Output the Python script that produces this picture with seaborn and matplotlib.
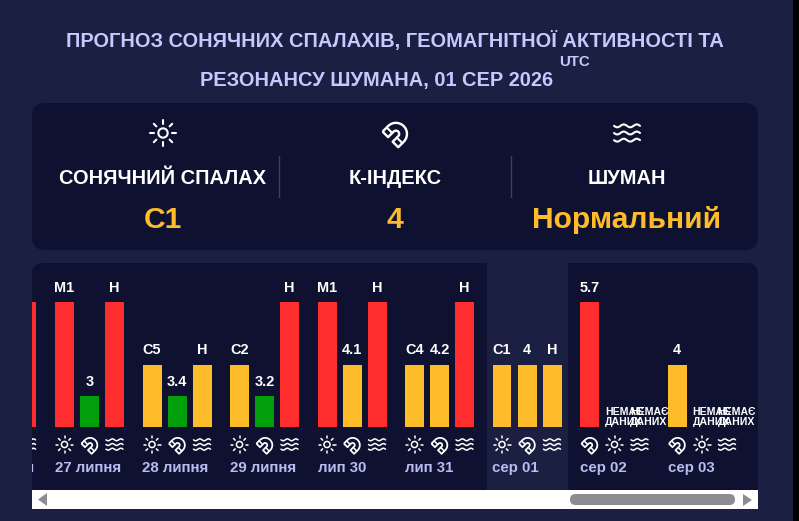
import numpy as np
import pandas as pd
import matplotlib
matplotlib.use("Agg")
import matplotlib.pyplot as plt
from matplotlib.patches import FancyBboxPatch, Rectangle, Polygon, Circle, PathPatch
from matplotlib.path import Path
from matplotlib.transforms import Affine2D
import seaborn as sns

dates = ['26 липня', '27 липня', '28 липня', '29 липня', 'лип 30', 'лип 31', 'сер 01', 'сер 02', 'сер 03']
flare_labels = ['', 'M1', 'C5', 'C2', 'M1', 'C4', 'C1', None, None]
flare_levels = [0, 4, 2, 2, 4, 2, 2, 0, 0]
k_labels = ['', '3', '3.4', '3.2', '4.1', '4.2', '4', '5.7', '4']
k_levels = [0, 1, 1, 1, 2, 2, 2, 4, 2]
schumann_labels = ['Н', 'Н', 'Н', 'Н', 'Н', 'Н', 'Н', None, None]
schumann_levels = [4, 4, 2, 4, 4, 4, 2, 0, 0]
today = 'сер 01'
no_data = 'НЕМАЄ\nДАНИХ'
title_1 = 'ПРОГНОЗ СОНЯЧНИХ СПАЛАХІВ, ГЕОМАГНІТНОЇ АКТИВНОСТІ ТА'
title_2 = 'РЕЗОНАНСУ ШУМАНА, 01 СЕР 2026'
head_names = ['СОНЯЧНИЙ СПАЛАХ', 'К-ІНДЕКС', 'ШУМАН']
head_values = ['C1', '4', 'Нормальний']
head_icons = ['sun', 'magnet', 'waves']
level_colors = {0: '#0e1230', 1: '#029e0b', 2: '#febb2a', 4: '#ff2d2d'}

BLACK, CARD, PANEL = '#000000', '#1b1f42', '#0e1230'
W, H = 799, 521
sns.set_theme(style='dark')
plt.rcParams['font.family'] = ['Liberation Sans', 'DejaVu Sans']
plt.rcParams['font.weight'] = 'bold'
px = 0.72

fig = plt.figure(figsize=(W / 100, H / 100), dpi=100, facecolor=BLACK)


def px_axes(x0, y0, x1, y1, z):
    a = fig.add_axes([x0 / W, 1 - y1 / H, (x1 - x0) / W, (y1 - y0) / H], zorder=z)
    a.set_xlim(x0, x1)
    a.set_ylim(y1, y0)
    a.axis('off')
    a.patch.set_alpha(0)
    return a


def icon(a, kind, cx, cy, size):
    s = size / 2
    lw = 1.1 if size < 20 else 1.5
    kw = dict(color='white', lw=lw, solid_capstyle='round', clip_on=True)
    if kind == 'sun':
        a.add_patch(Circle((cx, cy), s * 0.36, fill=False, ec='white', lw=lw, clip_on=True))
        for ang in np.arange(0, 360, 45):
            c, n = np.cos(np.radians(ang)), np.sin(np.radians(ang))
            a.plot([cx + s * .72 * c, cx + s * c], [cy + s * .72 * n, cy + s * n], **kw)
    elif kind == 'waves':
        t = np.linspace(-1, 1, 41)
        for off in (-.55, 0, .55):
            a.plot(cx + s * t, cy + s * off + s * .11 * np.sin(t * 2 * np.pi), **kw)
    else:
        R, r, L = .85, .25, .6
        th = np.linspace(np.pi, 0, 25)
        outer = np.c_[R * np.cos(th), R * np.sin(th)]
        inner = np.c_[r * np.cos(th[::-1]), r * np.sin(th[::-1])]
        pts = np.vstack([[[-R, -L]], outer, [[R, -L], [r, -L]], inner, [[-r, -L], [-R, -L]]])
        tr = Affine2D().rotate_deg(-45).scale(s, -s).translate(cx + s * .07, cy + s * .07) + a.transData
        a.add_patch(PathPatch(Path(pts), fill=False, ec='white', lw=lw * 1.15, joinstyle='round',
                              transform=tr, clip_on=True))
        for sgn in (-1, 1):
            a.plot(*(tr - a.transData).transform(np.array([[sgn * R, -L * .25], [sgn * r, -L * .25]])).T, **kw)


# background: card, header panel, chart panel, scrollbar
bg = px_axes(0, 0, W, H, 0)
bg.add_patch(FancyBboxPatch((-30, -30), 823, 600, boxstyle='round,pad=0,rounding_size=14', fc=CARD, ec='none'))
bg.add_patch(FancyBboxPatch((32, 103), 726, 147, boxstyle='round,pad=0,rounding_size=13', fc=PANEL, ec='none'))
bg.add_patch(FancyBboxPatch((32, 263), 726, 240, boxstyle='round,pad=0,rounding_size=11', fc=PANEL, ec='none'))
bg.add_patch(Rectangle((32, 490), 726, 19, fc='white', ec='none'))
bg.add_patch(FancyBboxPatch((570, 494), 165, 11, boxstyle='round,pad=0,rounding_size=5.5', fc='#8c8c91', ec='none'))
bg.add_patch(Polygon([[38, 499.5], [47, 493], [47, 506]], fc='#8c8c91', ec='none'))
bg.add_patch(Polygon([[752, 500], [743, 494], [743, 506]], fc='#8c8c91', ec='none'))

bg.text(394.5, 46.5, title_1, color='#c5c9ff', fontsize=20 * px, ha='center', va='baseline')
bg.text(376.5, 86, title_2, color='#c5c9ff', fontsize=20 * px, ha='center', va='baseline')
bg.text(574.5, 66, 'UTC', color='#c5c9ff', fontsize=15 * px, ha='center', va='baseline')

for x in (278.5, 510.5):
    bg.plot([x, x], [156, 197], color='#3c4060', lw=1)
for cx, name, val, ic in zip((163, 395, 627), head_names, head_values, head_icons):
    icon(bg, ic, cx, 133, 26)
    bg.text(cx, 184, name, color='white', fontsize=20 * px, ha='center', va='baseline')
    bg.text(cx, 228, val, color='#febb2a', fontsize=30 * px, ha='center', va='baseline')

# bars: 25 px per slot, 3.5 slots per day
rows = []
for g, d in enumerate(dates):
    series = [('sun', flare_labels[g], flare_levels[g]),
              ('magnet', k_labels[g], k_levels[g]),
              ('waves', schumann_labels[g], schumann_levels[g])]
    if flare_labels[g] is None:
        series[0], series[1] = series[1], series[0]
    for i, (ic, lab, lev) in enumerate(series):
        rows.append(dict(date=d, pos=(g - 1) * 3.5 + i, icon=ic, label=lab, level=lev))
df = pd.DataFrame(rows)

unit_x, unit_y = 25.0, 125 / 4
ax = fig.add_axes([32 / W, 1 - 490 / H, 726 / W, 227 / H], zorder=2)
sns.barplot(data=df, x='pos', y='level', hue='level', palette=level_colors, native_scale=True,
            dodge=False, width=0.76, saturation=1, legend=False, errorbar=None, linewidth=0, ax=ax)
ax.set_xlim((32 - 64.5) / unit_x, (758 - 64.5) / unit_x)
ax.set_ylim((427 - 490) / unit_y, (427 - 263) / unit_y)
ax.axis('off')
ax.patch.set_alpha(0)

# highlight for the current day sits under the bars
bg.add_patch(Rectangle((487, 263), 81, 227, fc=CARD, ec='none'))

ov = px_axes(32, 263, 758, 490, 3)
for r in df.itertuples():
    if r.label is None:
        ax.annotate(no_data, (r.pos - .38, 0), xytext=(0, 0), textcoords='offset points', color='white',
                    fontsize=10.5 * px, ha='left', va='bottom', linespacing=1.0, annotation_clip=False)
    elif r.label:
        t = ax.annotate(r.label, (r.pos, r.level), xytext=(0, 10 * px), textcoords='offset points',
                        color='white', fontsize=14.5 * px, ha='center', va='baseline')
        t.set_clip_on(True)
    xpx = 64.5 + r.pos * unit_x
    icon(ov, r.icon, xpx, 444.5, 17)
for g, d in enumerate(dates):
    xpx = 55 + (g - 1) * 3.5 * unit_x
    ov.text(xpx, 472, d, color='#b8bcf0', fontsize=15 * px, ha='left', va='baseline', clip_on=True)

fig.savefig('out.png', dpi=100, facecolor=BLACK)
